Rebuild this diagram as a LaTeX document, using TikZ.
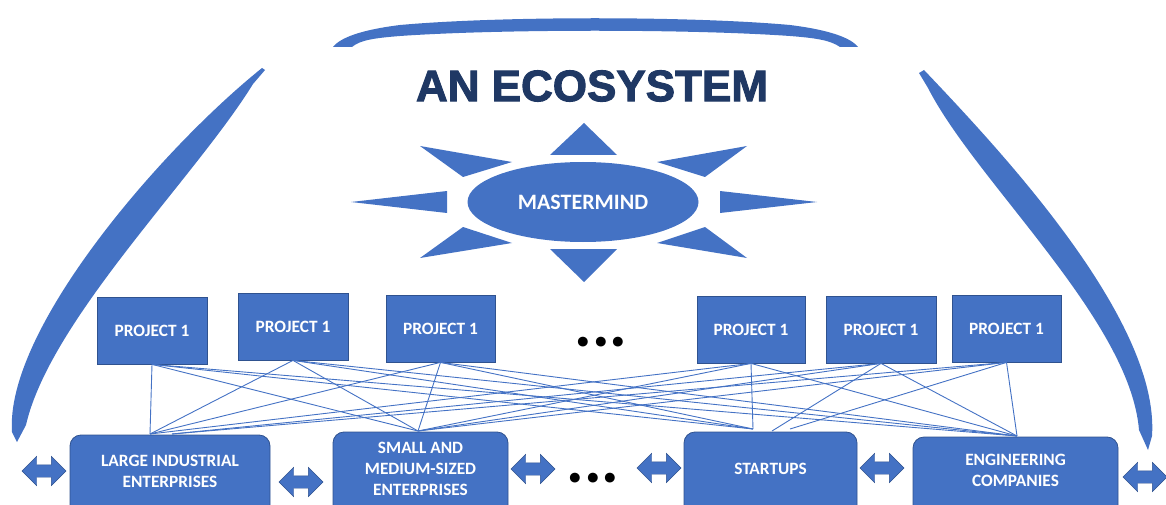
\documentclass[tikz,border=0pt]{standalone}
\usepackage{fontspec}
\setmainfont{Carlito}
\newfontfamily\titlefont[BoldFeatures={FakeBold=2.2}]{Liberation Sans}
\usetikzlibrary{shapes.arrows,shapes.geometric}
\definecolor{blu}{HTML}{4472C4}
\definecolor{bord}{HTML}{2F528F}
\definecolor{navy}{HTML}{1F3864}
\begin{document}
\begin{tikzpicture}[x=1pt,y=-1pt,
  pbox/.style={draw=bord, line width=0.8pt, fill=blu, text=white,
    font=\fontsize{17.3}{20}\selectfont\bfseries, minimum height=67pt, inner sep=0pt},
  bbox/.style={draw=bord, line width=0.8pt, fill=blu, rounded corners=11pt, inner sep=0pt},
  btext/.style={text=white, font=\fontsize{17.3}{21}\selectfont\bfseries, align=center, inner sep=0pt},
  dbl/.style={double arrow, fill=blu, draw=bord, line width=0.4pt, minimum height=44pt,
    minimum width=29pt, inner sep=6pt, double arrow head extend=8.5pt},
  link/.style={draw=blu, line width=0.9pt},
  ray/.style={fill=blu},
  dots/.style={font=\fontsize{66}{66}\selectfont\bfseries, inner sep=0pt}
]
\useasboundingbox (0,0) rectangle (1166,505);
\clip (0,0) rectangle (1166,505);

% top arc
\fill[blu] (333,47) .. controls (340,38) and (360,30) .. (400,25)
  .. controls (500,16) and (690,16) .. (790,25)
  .. controls (830,30) and (851,38) .. (858,47) -- (840,47)
  .. controls (830,40) and (815,38) .. (790,36)
  .. controls (690,29) and (500,29) .. (400,36)
  .. controls (375,38) and (360,40) .. (352,47) -- cycle;

% left arc
\fill[blu] (262,68) .. controls (160,150) and (5,330) .. (12,432)
  -- (17,442) -- (26,425)
  .. controls (50,320) and (195,178) .. (253,84) -- (265,70) -- cycle;

% right arc
\fill[blu] (924,70) .. controls (1000,150) and (1160,320) .. (1152,436)
  -- (1148,450) -- (1139,430)
  .. controls (1130,320) and (976,182) .. (928,88) -- (919,73) -- cycle;

% title
\node[font=\titlefont\bfseries\fontsize{44}{44}\selectfont, text=navy, inner sep=0pt]
  (title) at (592,86) {AN ECOSYSTEM};

% sun rays
\fill[ray] (584,123) -- (550,155) -- (617,155) -- cycle;
\fill[ray] (584,282) -- (550,249) -- (617,249) -- cycle;
\fill[ray] (351,202) -- (447,191) -- (447,213) -- cycle;
\fill[ray] (817,202) -- (720,191) -- (720,213) -- cycle;
\fill[ray] (420,146) -- (512,162) -- (463,177) -- cycle;
\fill[ray] (747,146) -- (657,162) -- (705,177) -- cycle;
\fill[ray] (420,258) -- (512,243) -- (463,227) -- cycle;
\fill[ray] (747,258) -- (657,243) -- (705,227) -- cycle;

% mastermind
\node[ellipse, fill=blu, minimum width=231pt, minimum height=80pt, inner sep=0pt,
  text=white, font=\fontsize{22}{22}\selectfont\bfseries] (mm) at (583,202) {MASTERMIND};

% projects
\node[pbox, minimum width=110pt] (p1) at (152,330.5) {PROJECT 1};
\node[pbox, minimum width=110pt] (p2) at (293,326.5) {PROJECT 1};
\node[pbox, minimum width=109pt] (p3) at (440.5,328.5) {PROJECT 1};
\node[pbox, minimum width=108pt] (p4) at (751,329.5) {PROJECT 1};
\node[pbox, minimum width=110pt] (p5) at (881,329.5) {PROJECT 1};
\node[pbox, minimum width=109pt] (p6) at (1006.5,328.5) {PROJECT 1};

\node[dots] (dotsup) at (601,342) {...};

% bottom boxes
\node[bbox, minimum width=200pt, minimum height=85pt] (b1) at (170,477.5) {};
\node[bbox, minimum width=175pt, minimum height=88pt] (b2) at (420.5,476) {};
\node[bbox, minimum width=173pt, minimum height=88pt] (b3) at (770.5,476) {};
\node[bbox, minimum width=205pt, minimum height=83pt] (b4) at (1015.5,478.5) {};

\node[btext] (b1t) at (170,471) {LARGE INDUSTRIAL\\ENTERPRISES};
\node[btext] (b2t) at (420.5,469) {SMALL AND\\MEDIUM-SIZED\\ENTERPRISES};
\node[btext] (b3t) at (770.5,469) {STARTUPS};
\node[btext] (b4t) at (1015.5,470.5) {ENGINEERING\\COMPANIES};

\node[dots] (dotsdown) at (593,478) {...};

% double arrows
\node[dbl] (a0) at (44,471) {};
\node[dbl] (a1) at (301,482) {};
\node[dbl] (a2) at (533,469) {};
\node[dbl] (a3) at (659,468) {};
\node[dbl] (a4) at (882,468) {};
\node[dbl] (a5) at (1145,477) {};

% convergence points
\coordinate (c1) at (150,434);
\coordinate (c1b) at (172,434);
\coordinate (c2) at (418,431);
\coordinate (c3) at (753,429);
\coordinate (c3b) at (772,431);
\coordinate (c3c) at (790,429);
\coordinate (c4) at (1017,436);

% links
\foreach \p in {p1,p2,p3,p4}{
  \draw[link] (\p.south) -- (c1);
  \draw[link] (\p.south) -- (c2);
  \draw[link] (\p.south) -- (c3);
  \draw[link] (\p.south) -- (c4);
}
\draw[link] (p5.south) -- (c1b);
\draw[link] (p5.south) -- (c2);
\draw[link] (p5.south) -- (c3b);
\draw[link] (p5.south) -- (c4);
\draw[link] (p6.south) -- (c1b);
\draw[link] (p6.south) -- (c2);
\draw[link] (p6.south) -- (c3c);
\draw[link] (p6.south) -- (c4);
\end{tikzpicture}
\end{document}
